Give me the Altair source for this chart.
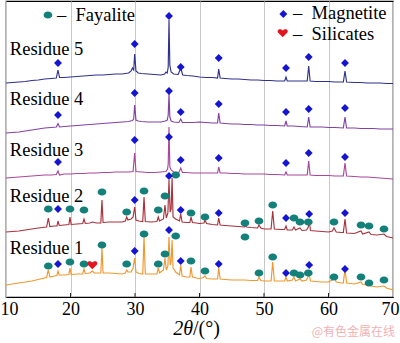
import altair as alt
import pandas as pd

# ---------------- data (2theta in degrees, intensity in arbitrary offset units) ----------------
R5 = [(10.0, 214), (11, 214.5), (12, 215), (13, 215.5), (14, 216.5), (15, 217), (16, 218), (17, 218.5),
      (17.8, 219), (18.06, 227), (18.3, 219.5), (19, 219.5), (20, 220), (21, 220.5), (22, 221), (23, 221.5),
      (24, 222), (25, 222), (26, 222.5), (27, 223), (28, 223), (29, 224), (29.4, 226), (29.6, 229),
      (29.8, 227), (29.95, 243), (30.15, 226), (30.5, 224), (31, 223.5), (32, 223), (33, 222.5), (34, 222),
      (34.6, 223), (34.8, 225), (35.0, 224), (35.15, 230), (35.27, 277), (35.4, 232), (35.6, 225), (36, 223),
      (36.7, 222.5), (37.09, 229), (37.4, 222), (38, 221.5), (39, 221), (40, 220), (41, 219.5), (42, 219.5),
      (42.8, 219), (42.98, 228), (43.2, 219), (44, 218.5), (45, 218), (46, 218), (47, 217.5), (48, 217),
      (49, 217), (50, 216.5), (51, 216.5), (52, 216), (53.2, 216), (53.41, 220), (53.6, 216), (54.5, 216),
      (55.5, 216), (56.7, 216), (56.93, 231), (57.15, 216), (58, 215.5), (59, 215.5), (60, 215.5), (61, 215),
      (62.3, 215), (62.56, 226), (62.8, 215), (64, 214.5), (65, 214.5), (66, 214), (67, 214), (68, 214),
      (69, 213.5), (70, 213.5)]

R4 = [(10, 164), (11, 164.5), (12, 165), (13, 166), (14, 167), (15, 168), (16, 169), (17, 169.5), (17.8, 170),
      (18.06, 173.5), (18.3, 170), (19, 170.5), (20, 171), (21, 171.5), (22, 172), (23, 172.5), (24, 173),
      (25, 173.5), (26, 174), (27, 174.5), (28, 175), (29, 175.5), (29.6, 176.5), (29.8, 178), (29.95, 192),
      (30.15, 177), (30.5, 176), (31, 175.5), (32, 175), (33, 175), (34, 175), (34.7, 176), (35.0, 177),
      (35.15, 182), (35.27, 203), (35.4, 180), (35.6, 176), (36, 175), (36.8, 174.5), (37.09, 178),
      (37.35, 174.5), (38, 174.5), (39, 174.5), (40, 175), (41, 174.5), (42, 174), (42.8, 174), (42.98, 184),
      (43.2, 174), (44, 173.5), (45, 173), (46, 173), (47, 172.5), (48, 172.5), (49, 172), (50, 172),
      (51, 171.5), (52, 171.5), (53.2, 171), (53.41, 176), (53.6, 171), (54.5, 171), (55.5, 170.5),
      (56.7, 170), (56.93, 180), (57.15, 170), (58, 170), (59, 170), (60, 169.5), (61, 169.5), (62.3, 169),
      (62.56, 180), (62.8, 169), (64, 169), (65, 168.5), (66, 168.5), (67, 168.5), (68, 168), (69, 168),
      (70, 168)]

R3 = [(10, 119), (11, 119.5), (12, 120), (13, 120.5), (14, 121), (15, 121.5), (16, 122), (17, 122),
      (17.8, 122.5), (18.06, 126), (18.3, 122), (19, 123), (20, 123), (21, 123.5), (22, 123.5), (23, 124),
      (24, 124), (25, 124.5), (26, 124.5), (27, 125), (28, 125), (29, 125), (29.7, 125.5), (29.95, 144),
      (30.15, 125.5), (31, 125), (32, 124.5), (33, 124.5), (34, 125), (34.8, 125.5), (35.05, 128),
      (35.15, 133), (35.27, 170), (35.4, 130), (35.6, 127), (36, 125), (36.8, 124.5), (37.09, 129),
      (37.35, 124.5), (38, 124.5), (39, 124), (40, 124), (41, 124), (42, 124), (42.8, 124), (42.98, 130),
      (43.2, 124), (44, 124), (45, 123.5), (46, 123.5), (47, 123), (48, 123), (49, 123), (50, 123),
      (51, 122.5), (52, 122.5), (53.2, 122), (53.41, 125), (53.6, 122), (54.5, 122), (55.5, 122), (56.7, 122),
      (56.93, 136), (57.15, 122), (58, 121.5), (59, 121.5), (60, 121.5), (61, 121), (62.3, 121), (62.56, 134),
      (62.8, 121), (64, 120.5), (65, 120), (66, 120), (67, 119.5), (68, 119), (69, 118.5), (70, 118)]

R2 = [(10, 65), (11, 65.5), (12, 66), (13, 67), (14, 68), (15, 69), (16.3, 70), (16.56, 79), (16.8, 70.5),
      (17.5, 71), (17.9, 71), (18.06, 76), (18.25, 71.5), (19, 72), (19.75, 72.5), (19.92, 80), (20.1, 72.5),
      (21, 73), (21.9, 73.5), (22.09, 78), (22.3, 73.5), (23, 74), (23.4, 75), (24, 74), (24.7, 74),
      (24.88, 97), (25.05, 74.5), (26, 75), (27, 75), (28, 75), (28.5, 76), (28.71, 80), (28.9, 77),
      (29.4, 78), (29.7, 80), (29.95, 90), (30.15, 77), (30.6, 76), (31.2, 75.5), (31.4, 100), (31.6, 75.5),
      (32.5, 75), (33.4, 75.5), (33.61, 80), (33.8, 76), (34.4, 78), (34.65, 92), (34.85, 79), (35.1, 84),
      (35.27, 117), (35.45, 85), (35.6, 88), (35.75, 119), (35.9, 80), (36.3, 78), (36.9, 76), (37.09, 83),
      (37.3, 75), (38, 74.5), (38.5, 74.5), (38.68, 80), (38.9, 74.5), (39.5, 74), (40, 73.5), (40.7, 74),
      (40.85, 77), (41.1, 73.5), (42, 72.5), (42.8, 72), (42.98, 79), (43.2, 72), (44, 71.5), (45, 71),
      (46, 70.5), (47, 70), (47.05, 71.5), (47.3, 70), (48, 69.5), (49, 69), (49.22, 72), (49.5, 69),
      (50, 68), (51.1, 68), (51.35, 86), (51.6, 68), (52.5, 67.5), (53.2, 67.5), (53.41, 71), (53.6, 67),
      (54.4, 67), (54.65, 70), (54.9, 67), (55.58, 69), (55.9, 66.5), (56.6, 67), (56.87, 70), (57.0, 77),
      (57.2, 66.5), (58, 66), (59, 65.5), (60, 65), (60.6, 66), (60.85, 69), (61.2, 65), (62, 64.5),
      (62.3, 64.5), (62.56, 78), (62.8, 64), (64, 63.5), (65.04, 66), (65.3, 63), (66.28, 65), (66.6, 62.5),
      (67.5, 62), (68.6, 63), (69, 60.5), (70, 59)]

R1 = [(10, 12), (11, 13), (12, 14), (13, 15), (14, 16), (15, 17.5), (16.3, 19.5), (16.56, 27), (16.8, 20),
      (17.5, 21), (17.9, 21.5), (18.06, 26), (18.25, 22), (19, 22), (19.75, 22.5), (19.92, 29), (20.1, 22.5),
      (21, 23), (21.9, 23), (22.09, 28), (22.3, 23.5), (23, 24), (23.38, 26), (23.7, 24), (24.7, 24),
      (24.88, 49), (25.05, 24), (26, 24), (27, 23.5), (28, 23), (28.5, 24), (28.71, 27), (28.9, 25),
      (29.4, 25), (29.7, 29), (29.95, 39), (30.15, 25), (30.6, 23.5), (31.2, 23), (31.4, 60), (31.6, 23),
      (32.5, 23), (33.4, 23), (33.61, 29), (33.8, 24), (34.4, 27), (34.65, 39), (34.85, 27), (35.1, 31),
      (35.27, 60), (35.45, 32), (35.6, 35), (35.75, 57), (35.9, 29), (36.3, 25), (36.9, 22), (37.09, 32),
      (37.3, 21), (38, 20), (38.5, 20), (38.68, 30), (38.9, 20), (39.5, 19), (40, 18.5), (40.6, 19.5),
      (40.85, 21), (41.1, 18.5), (42, 18), (42.8, 18), (42.98, 29), (43.2, 18), (44, 17.5), (45, 17),
      (46, 17), (47, 17), (48, 16.5), (49, 16.5), (49.22, 20), (49.5, 16.5), (50, 16), (51.1, 16),
      (51.35, 35), (51.6, 16), (52.5, 16), (53.2, 16), (53.41, 20), (53.6, 16), (54.4, 17), (54.65, 20),
      (54.9, 16), (55.58, 18), (55.9, 16), (56.6, 17), (56.87, 21), (57.0, 23), (57.2, 16), (58, 15.5),
      (59, 15), (60, 15), (60.6, 17), (60.85, 21), (61.2, 15), (62, 14), (62.3, 14), (62.56, 28), (62.8, 14),
      (64, 13), (65.04, 15), (65.3, 12.5), (66.28, 12), (66.6, 11), (67.5, 10), (68.6, 11), (69, 9), (70, 7)]

SAMPLES = ["Residue 1", "Residue 2", "Residue 3", "Residue 4", "Residue 5"]
SAMPLE_COLORS = ["#f0982e", "#a8323c", "#a9479c", "#8242a2", "#30318c"]
LABEL_Y = [43, 95, 141, 192, 242]

MAGNETITE = [(18.06, 234), (29.95, 253), (35.27, 281), (37.09, 230), (42.98, 239), (53.41, 229), (56.93, 240), (62.56, 234),
             (18.06, 182), (29.95, 204), (35.27, 206), (37.09, 185), (42.98, 193), (53.41, 185), (56.93, 188), (62.56, 189),
             (18.06, 135), (29.95, 157), (35.27, 160), (37.09, 137), (42.98, 139), (53.41, 134), (56.93, 144), (62.56, 140),
             (18.06, 88), (29.95, 97), (35.27, 121), (37.09, 87), (42.98, 84), (53.41, 79), (57.0, 83), (62.56, 84),
             (18.06, 33), (29.95, 46), (35.27, 67), (37.09, 36), (42.98, 33), (53.41, 24), (57.0, 32), (62.56, 28),
             (53.0, 283)]

FAYALITE = [(16.56, 88), (19.92, 88), (22.09, 87), (24.88, 105), (28.71, 85), (31.4, 106), (33.61, 87), (34.65, 101),
            (36.31, 122), (38.68, 84), (40.85, 80), (47.05, 74), (49.22, 76), (51.35, 92), (54.65, 79), (55.58, 75),
            (56.87, 75), (60.85, 75), (65.04, 72), (66.28, 71), (68.6, 68),
            (16.56, 31), (19.92, 35), (22.09, 33), (24.88, 52), (28.71, 33), (31.4, 63), (33.61, 33), (34.65, 43),
            (36.31, 61), (38.68, 36), (40.85, 26), (47.05, 60), (49.22, 24), (51.35, 40), (54.65, 24), (55.58, 22),
            (56.87, 24), (60.85, 20), (65.04, 20), (66.28, 14), (68.6, 17),
            (16.5, 282)]

SILICATES = [(23.38, 32), (52.9, 264)]

LEGEND_TEXT = ["–\u2002Fayalite", "–\u2002Magnetite", "–\u2002Silicates"]
LEGEND_X = [17.9, 54.5, 54.5]
LEGEND_Y = [276, 278, 257]

TICKS = [10, 20, 30, 40, 50, 60, 70]
INNER_TICKS = [20, 30, 40, 50, 60]

# ---------------- tables ----------------
rows = []
for name, series in zip(["Residue 5", "Residue 4", "Residue 3", "Residue 2", "Residue 1"], [R5, R4, R3, R2, R1]):
    for t, v in series:
        rows.append({"theta": t, "v": v, "sample": name})
lines_df = pd.DataFrame(rows)

mag_df = pd.DataFrame(MAGNETITE, columns=["theta", "v"])
fay_df = pd.DataFrame(FAYALITE, columns=["theta", "v"])
sil_df = pd.DataFrame(SILICATES, columns=["theta", "v"])
lab_df = pd.DataFrame({"theta": [10.6] * 5, "v": LABEL_Y, "text": SAMPLES})
leg_df = pd.DataFrame({"theta": LEGEND_X, "v": LEGEND_Y, "text": LEGEND_TEXT})
tick_df = pd.DataFrame({"theta": INNER_TICKS, "y0": [0] * 5, "y1": [4] * 5})
wm_df = pd.DataFrame({"text": ["@有色金属在线"]})
t1_df = pd.DataFrame({"text": ["2θ"]})
t2_df = pd.DataFrame({"text": ["/(°)"]})

xscale = alt.Scale(domain=[10, 70], nice=False, zero=False)
yscale = alt.Scale(domain=[0, 296], nice=False, zero=False)
SERIF = "Liberation Serif"

x_axis = alt.Axis(values=TICKS, labelFont=SERIF, labelFontSize=18, labelColor="black", labelFlush=True,
                  labelFlushOffset=6, labelPadding=3, tickSize=0, grid=True, gridColor="#c8c8c8",
                  gridWidth=1, domainColor="black", title=None)

lines = alt.Chart(lines_df).mark_line(strokeWidth=1.15).encode(
    x=alt.X("theta:Q", scale=xscale, axis=x_axis),
    y=alt.Y("v:Q", scale=yscale, axis=None),
    color=alt.Color("sample:N", scale=alt.Scale(domain=SAMPLES, range=SAMPLE_COLORS), legend=None),
)

inner_ticks = alt.Chart(tick_df).mark_rule(color="#222222", strokeWidth=1).encode(
    x=alt.X("theta:Q", scale=xscale), y=alt.Y("y0:Q", scale=yscale), y2="y1:Q")

ELLIPSE = "M-1,0A1,0.82 0 1,0 1,0A1,0.82 0 1,0 -1,0Z"
HEART = "M0,0.85L-0.85,0C-1.35,-0.5 -0.6,-1.15 0,-0.5C0.6,-1.15 1.35,-0.5 0.85,0Z"

fay = alt.Chart(fay_df).mark_point(shape=ELLIPSE, filled=True, color="#13807a", size=76, opacity=1).encode(
    x=alt.X("theta:Q", scale=xscale), y=alt.Y("v:Q", scale=yscale))
mag = alt.Chart(mag_df).mark_point(shape="diamond", filled=True, color="#1414d2", size=62, opacity=1).encode(
    x=alt.X("theta:Q", scale=xscale), y=alt.Y("v:Q", scale=yscale))
sil = alt.Chart(sil_df).mark_point(shape=HEART, filled=True, color="#e3141e", size=100, opacity=1).encode(
    x=alt.X("theta:Q", scale=xscale), y=alt.Y("v:Q", scale=yscale))

labels = alt.Chart(lab_df).mark_text(font=SERIF, fontSize=18.5, align="left", baseline="alphabetic",
                                     color="black").encode(
    x=alt.X("theta:Q", scale=xscale), y=alt.Y("v:Q", scale=yscale), text="text:N")
legend_txt = alt.Chart(leg_df).mark_text(font=SERIF, fontSize=18.5, align="left", baseline="alphabetic",
                                         color="black").encode(
    x=alt.X("theta:Q", scale=xscale), y=alt.Y("v:Q", scale=yscale), text="text:N")

title1 = alt.Chart(t1_df).mark_text(font=SERIF, fontSize=20, fontStyle="italic", align="right",
                                    baseline="alphabetic", color="black").encode(
    x=alt.value(187), y=alt.value(334), text="text:N")
title2 = alt.Chart(t2_df).mark_text(font=SERIF, fontSize=20, align="left", baseline="alphabetic",
                                    color="black").encode(
    x=alt.value(187), y=alt.value(334), text="text:N")
watermark = alt.Chart(wm_df).mark_text(font="Noto Sans CJK SC", fontSize=12, align="right",
                                       baseline="middle", color="#f2b2b4").encode(
    x=alt.value(389), y=alt.value(331), text="text:N")

chart = alt.layer(lines, inner_ticks, fay, mag, sil, labels, legend_txt, title1, title2, watermark).properties(
    width=387, height=296,
    autosize=alt.AutoSizeParams(type="none"),
    padding={"left": 6, "top": 1, "right": 7, "bottom": 46},
    background="white",
).configure_view(stroke="black", strokeWidth=1.2)

chart.save("out.html", embed_options={"renderer": "svg", "actions": False})
